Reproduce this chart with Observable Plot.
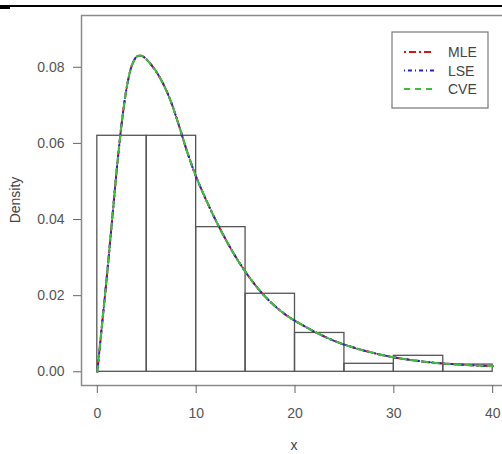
<!DOCTYPE html>
<html>
<head>
<meta charset="utf-8">
<script src="https://cdn.jsdelivr.net/npm/d3@7"></script>
<script src="https://cdn.jsdelivr.net/npm/@observablehq/plot@0.6"></script>
<style>
  html, body { margin: 0; padding: 0; background: #fff; }
  #wrap { position: relative; width: 502px; height: 454px; overflow: hidden; }
  #wrap svg { max-width: none !important; }
  .edge { position: absolute; background: #000; }
</style>
</head>
<body>
<div id="wrap"></div>
<script>
// Histogram bins (density)
const binStart = [0, 5, 10, 15, 20, 25, 30, 35];
const binEnd   = [5, 10, 15, 20, 25, 30, 35, 40];
const binDensity = [0.062, 0.062, 0.038, 0.0205, 0.0102, 0.0021, 0.0042, 0.0019];

// Fitted density curves (the three overlap)
const curveX = [0, 0.5, 1, 1.5, 2, 2.5, 3, 3.5, 4, 4.5, 5, 5.5, 6, 6.5, 7, 7.5, 8, 8.5, 9, 9.5, 10, 11, 12, 13, 14, 15, 16, 17, 18, 19, 20, 22, 24, 26, 28, 30, 32, 34, 36, 38, 40];
const mleY = [0, 0.013, 0.026, 0.040, 0.054, 0.066, 0.075, 0.0805, 0.0828, 0.083, 0.082, 0.0805, 0.0787, 0.0765, 0.0738, 0.0706, 0.0668, 0.0627, 0.0585, 0.0547, 0.0512, 0.0452, 0.0397, 0.0347, 0.0302, 0.0262, 0.0227, 0.0197, 0.0172, 0.0151, 0.0134, 0.0105, 0.0081, 0.0063, 0.0049, 0.0038, 0.0030, 0.0024, 0.0020, 0.0017, 0.0015];
const lseY = [0, 0.013, 0.026, 0.040, 0.054, 0.066, 0.075, 0.0805, 0.0828, 0.083, 0.082, 0.0805, 0.0787, 0.0765, 0.0738, 0.0706, 0.0668, 0.0627, 0.0585, 0.0547, 0.0512, 0.0452, 0.0397, 0.0347, 0.0302, 0.0262, 0.0227, 0.0197, 0.0172, 0.0151, 0.0134, 0.0105, 0.0081, 0.0063, 0.0049, 0.0038, 0.0030, 0.0024, 0.0020, 0.0017, 0.0015];
const cveY = [0, 0.013, 0.026, 0.040, 0.054, 0.066, 0.075, 0.0805, 0.0828, 0.083, 0.082, 0.0805, 0.0787, 0.0765, 0.0738, 0.0706, 0.0668, 0.0627, 0.0585, 0.0547, 0.0512, 0.0452, 0.0397, 0.0347, 0.0302, 0.0262, 0.0227, 0.0197, 0.0172, 0.0151, 0.0134, 0.0105, 0.0081, 0.0063, 0.0049, 0.0038, 0.0030, 0.0024, 0.0020, 0.0017, 0.0015];

const xTicks = [0, 10, 20, 30, 40];
const yTicks = [0, 0.02, 0.04, 0.06, 0.08];
const seriesNames = ["MLE", "LSE", "CVE"];
const seriesColors = ["#d01818", "#2424c8", "#3cc03c"];
const seriesDash = ["2,3,7,3", "1,3,4,3", "6,5"];
const xLabel = "x";
const yLabel = "Density";

const bins = binStart.map((s, i) => ({x1: s, x2: binEnd[i], y: binDensity[i]}));
const curves = [mleY, lseY, cveY].map(ys => curveX.map((x, i) => ({x, y: ys[i]})));

const font = "Liberation Sans, Arial, sans-serif";

const chart = Plot.plot({
  width: 510,
  height: 454,
  marginLeft: 81,
  marginRight: 2,
  marginTop: 15,
  marginBottom: 69,
  style: {fontFamily: font, fontSize: "14px", color: "#444", background: "#fff"},
  x: {domain: [-1.6, 41.6], range: [81, 508]},
  y: {domain: [-0.0036, 0.0936], range: [385, 15]},
  marks: [
    Plot.frame({stroke: "#8a8a8a", strokeWidth: 1.5}),
    Plot.rectY(bins, {x1: "x1", x2: "x2", y: "y", fill: "none", stroke: "#555", strokeWidth: 1.3}),
    ...curves.map((c, i) => Plot.line(c, {x: "x", y: "y", stroke: seriesColors[i], strokeWidth: 2, strokeDasharray: seriesDash[i], curve: "catmull-rom"})),
    Plot.axisX({ticks: xTicks, tickSize: 8, tickPadding: 15, tickFormat: d3.format("d"), label: null, stroke: "#666", fill: "#555", fontSize: 14}),
    Plot.axisY({ticks: yTicks, tickSize: 8, tickPadding: 9, tickFormat: d3.format(".2f"), label: null, stroke: "#666", fill: "#555", fontSize: 14})
  ]
});
chart.style.maxWidth = "none";

document.getElementById("wrap").appendChild(chart);

const svg = d3.select(chart);
// axis titles
svg.append("text").attr("x", 294).attr("y", 450).attr("text-anchor", "middle")
  .attr("font-family", font).attr("font-size", 14).attr("fill", "#444").text(xLabel);
svg.append("text").attr("transform", "translate(20,200) rotate(-90)").attr("text-anchor", "middle")
  .attr("font-family", font).attr("font-size", 14).attr("fill", "#444").text(yLabel);

// legend
const lg = svg.append("g");
lg.append("rect").attr("x", 392).attr("y", 32).attr("width", 96).attr("height", 76)
  .attr("fill", "#fff").attr("stroke", "#777").attr("stroke-width", 1.2);
seriesNames.forEach((n, i) => {
  const yy = 52 + i * 18.5;
  lg.append("line").attr("x1", 404).attr("x2", 434).attr("y1", yy).attr("y2", yy)
    .attr("stroke", seriesColors[i]).attr("stroke-width", 2).attr("stroke-dasharray", seriesDash[i]);
  lg.append("text").attr("x", 448).attr("y", yy + 5).attr("text-anchor", "start")
    .attr("font-family", font).attr("font-size", 14).attr("fill", "#444").text(n);
});

// page edge line at top
const wrap = document.getElementById("wrap");
const e1 = document.createElement("div"); e1.className = "edge";
Object.assign(e1.style, {left: "0px", top: "5px", width: "502px", height: "2px"});
const e2 = document.createElement("div"); e2.className = "edge";
Object.assign(e2.style, {left: "0px", top: "7px", width: "10px", height: "2px"});
wrap.appendChild(e1); wrap.appendChild(e2);
</script>
</body>
</html>
